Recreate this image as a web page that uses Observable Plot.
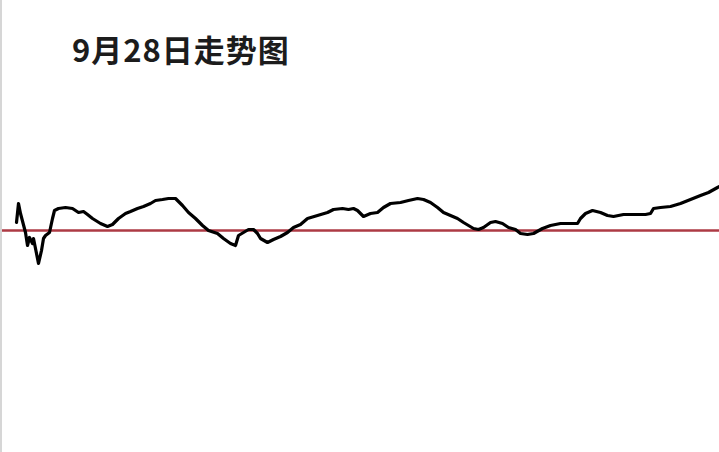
<!DOCTYPE html>
<html>
<head>
<meta charset="utf-8">
<script src="https://cdn.jsdelivr.net/npm/d3@7"></script>
<script src="https://cdn.jsdelivr.net/npm/@observablehq/plot@0.6"></script>
<style>
  html, body { margin: 0; padding: 0; background: #fff; width: 719px; height: 452px; overflow: hidden; }
  #edge { position: fixed; left: 0; top: 0; width: 2px; height: 452px; background: #d6d6d6; z-index: 5; }
  #head { position: relative; height: 100px; }
  #title { position: absolute; left: 72px; top: 35px; font-family: "Noto Sans CJK SC", sans-serif; font-weight: 700; font-size: 31px; line-height: 28px; letter-spacing: 1px; color: #1c1c1c; white-space: nowrap; }
</style>
</head>
<body>
<div id="edge"></div>
<div id="head"><div id="title">9月28日走势图</div></div>
<div id="chart"></div>
<script>
// Time (arbitrary intraday units) and change vs. previous close (points)
const times = [0,2,4,9,11,13,16,17,20,22,25,27,29,33,36,38,42,49,56,62,67,71,76,84,91,96,102,109,114,121,127,134,139,146,152,159,166,172,179,186,192,201,207,214,219,222,227,232,237,241,244,251,257,264,271,277,284,291,301,311,317,326,332,337,341,344,347,354,361,367,374,384,392,401,407,414,421,427,434,441,447,452,457,462,467,474,479,486,492,499,504,511,517,526,534,544,552,561,564,569,576,584,591,597,607,617,629,634,637,644,654,664,674,684,692,701,703];
const change = [8,27,17,-2,-15,-7,-13,-8,-23,-33,-20,-8,-5,-2,12,20,22,23,22,18,19,16,12,7,4,6,12,17,19,22,24,27,30,31,32,32,25,18,12,5,0,-3,-8,-13,-15,-5,-2,1,1,-3,-8,-12,-9,-6,-2,3,6,12,15,18,21,22,21,22,20,17,14,17,18,23,27,28,30,32,31,28,23,18,15,12,8,5,2,1,3,8,9,7,3,1,-3,-4,-3,2,5,7,7,7,12,17,20,18,15,14,16,16,16,17,22,23,24,27,31,35,38,43,44];
const baseline = [0];

const data = times.map((t, i) => ({t, v: change[i]}));

const chart = Plot.plot({
  width: 719,
  height: 352,
  marginLeft: 16,
  marginRight: 0,
  marginTop: 0,
  marginBottom: 0,
  x: {domain: [0, 703], axis: null},
  y: {domain: [-222, 130], axis: null},
  marks: [
    Plot.ruleY(baseline, {stroke: "#ad3a44", strokeWidth: 2.5, x1: -16, x2: 703}),
    Plot.line(data, {x: "t", y: "v", stroke: "#000", strokeWidth: 3.2, strokeLinejoin: "round", strokeLinecap: "round"})
  ]
});
document.getElementById("chart").appendChild(chart);
</script>
</body>
</html>
